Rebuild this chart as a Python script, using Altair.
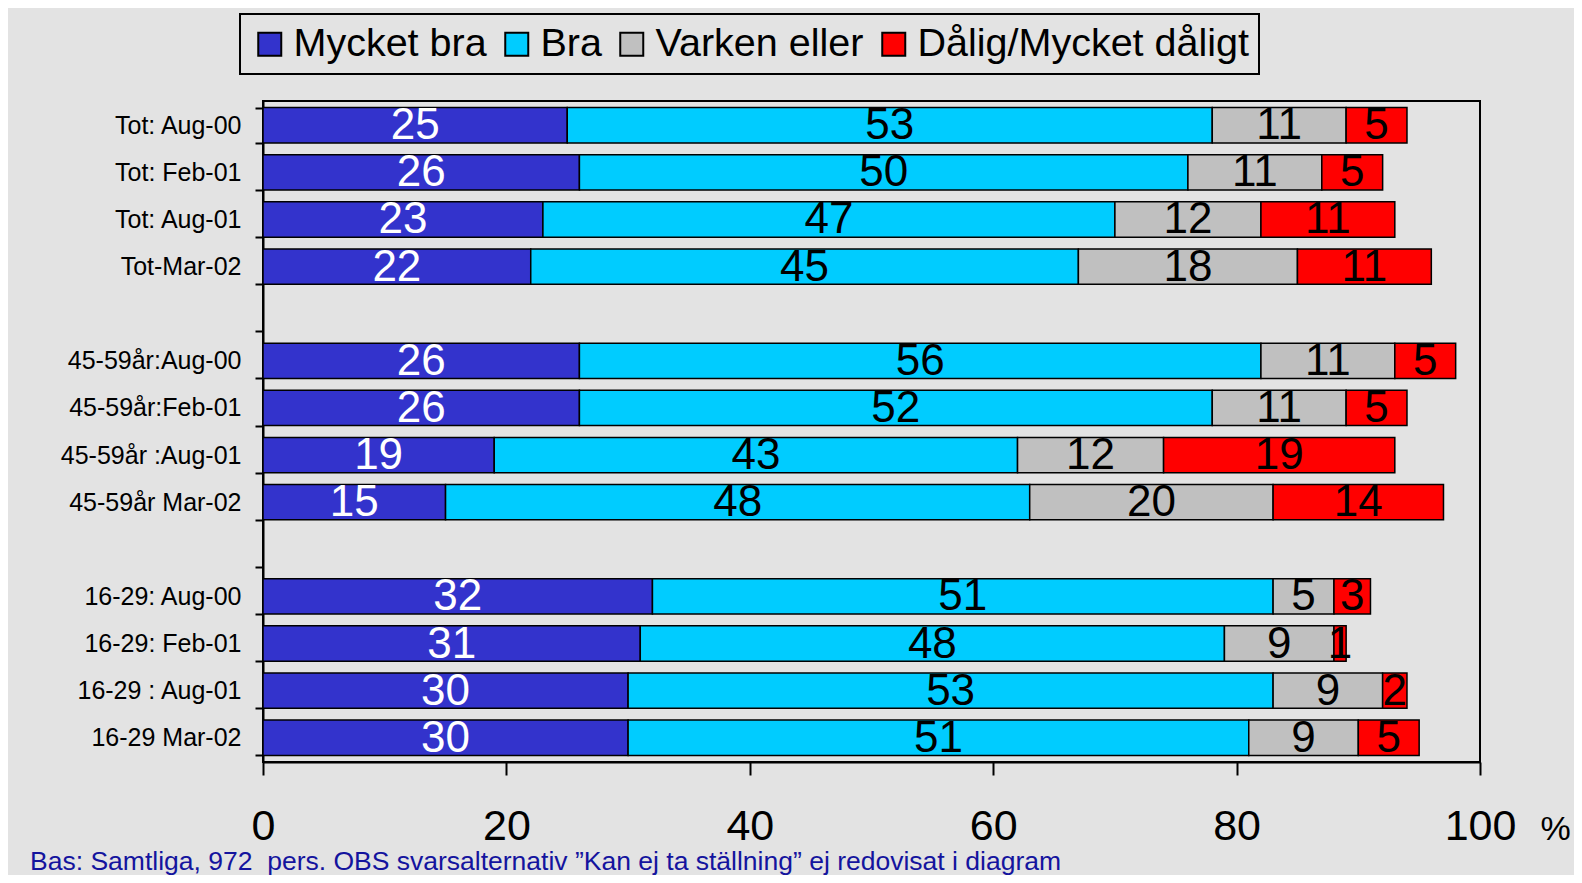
import altair as alt
import pandas as pd

# ---- data ----
rows = ["Tot: Aug-00", "Tot: Feb-01", "Tot: Aug-01", "Tot-Mar-02", " ",
        "45-59år:Aug-00", "45-59år:Feb-01", "45-59år :Aug-01", "45-59år Mar-02", "  ",
        "16-29: Aug-00", "16-29: Feb-01", "16-29 : Aug-01", "16-29 Mar-02"]
data_rows = ["Tot: Aug-00", "Tot: Feb-01", "Tot: Aug-01", "Tot-Mar-02",
             "45-59år:Aug-00", "45-59år:Feb-01", "45-59år :Aug-01", "45-59år Mar-02",
             "16-29: Aug-00", "16-29: Feb-01", "16-29 : Aug-01", "16-29 Mar-02"]
categories = ["Mycket bra", "Bra", "Varken eller", "Dålig/Mycket dåligt"]
mycket_bra = [25, 26, 23, 22, 26, 26, 19, 15, 32, 31, 30, 30]
bra = [53, 50, 47, 45, 56, 52, 43, 48, 51, 48, 53, 51]
varken = [11, 11, 12, 18, 11, 11, 12, 20, 5, 9, 9, 9]
dalig = [5, 5, 11, 11, 5, 5, 19, 14, 3, 1, 2, 5]
colors = ["#3333cc", "#00ccff", "#c0c0c0", "#ff0000"]
x_ticks = [0, 20, 40, 60, 80, 100]
footer = "Bas: Samtliga, 972\u00a0 pers. OBS svarsalternativ \u201dKan ej ta ställning\u201d ej redovisat i diagram"

series = [mycket_bra, bra, varken, dalig]
records = []
for i, r in enumerate(data_rows):
    start = 0
    for c, vals in zip(categories, series):
        v = vals[i]
        records.append({"row": r, "cat": c, "order": categories.index(c),
                        "value": v, "start": start, "end": start + v,
                        "mid": start + v / 2})
        start += v
df = pd.DataFrame(records)

FONT = "Liberation Sans, Arial, sans-serif"

y_enc = alt.Y("row:N", scale=alt.Scale(domain=rows, paddingInner=0.25, paddingOuter=0.14),
              axis=alt.Axis(title=None, labelFontSize=25, labelColor="black", labelFont=FONT,
                            labelLimit=0,
                            tickBand="extent", tickSize=8, tickWidth=2, tickColor="black",
                            domainColor="black", domainWidth=2, labelPadding=14, grid=False))

x_scale = alt.Scale(domain=[0, 100], nice=False)

bars = alt.Chart(df).mark_bar(stroke="black", strokeWidth=1.5, opacity=1).encode(
    x=alt.X("start:Q", scale=x_scale,
            axis=alt.Axis(values=x_ticks, labelFontSize=43, labelFont=FONT, labelColor="black",
                          labelFlush=False,
                          tickSize=13, tickWidth=2, tickColor="black", domainColor="black",
                          domainWidth=2, labelPadding=64, labelBaseline="alphabetic",
                          grid=False, title="%", titleFontSize=34, titleFontWeight="normal",
                          titleFont=FONT, titleColor="black", titleX=1292, titleY=77,
                          titleAlign="center", titleBaseline="alphabetic")),
    x2="end:Q",
    y=y_enc,
    color=alt.Color("cat:N", scale=alt.Scale(domain=categories, range=colors),
                    legend=alt.Legend(title=None, orient="none", legendX=-23, legendY=-87,
                                      direction="horizontal", columns=4,
                                      strokeColor="black", padding=10,
                                      symbolType="square", symbolSize=529,
                                      symbolStrokeColor="black", symbolStrokeWidth=2,
                                      symbolOpacity=1, labelFontSize=39.5, labelFont=FONT,
                                      labelColor="black", labelOffset=4, columnPadding=10,
                                      labelLimit=0)),
    order=alt.Order("order:Q"),
)

labels = alt.Chart(df).mark_text(fontSize=44, font=FONT, baseline="middle", dy=1).encode(
    x=alt.X("mid:Q", scale=x_scale),
    y=alt.Y("row:N", scale=alt.Scale(domain=rows)),
    text=alt.Text("value:Q"),
    color=alt.condition(alt.datum.cat == "Mycket bra", alt.value("white"), alt.value("black")),
)

chart = alt.layer(bars, labels).properties(
    width=1217, height=661,
    title=alt.TitleParams(footer, orient="bottom", anchor="start", frame="group",
                          dx=-233, fontSize=26.5, font=FONT, fontWeight="normal",
                          color="#14149e", offset=1),
    autosize=alt.AutoSizeParams(type="none"),
    padding={"left": 255, "top": 93, "right": 94, "bottom": 113},
).configure(background="#e3e3e3").configure_view(
    stroke="black", strokeWidth=2
).configure_legend(strokeWidth=2)

chart.save("out.html", embed_options={"renderer": "svg", "actions": False})
